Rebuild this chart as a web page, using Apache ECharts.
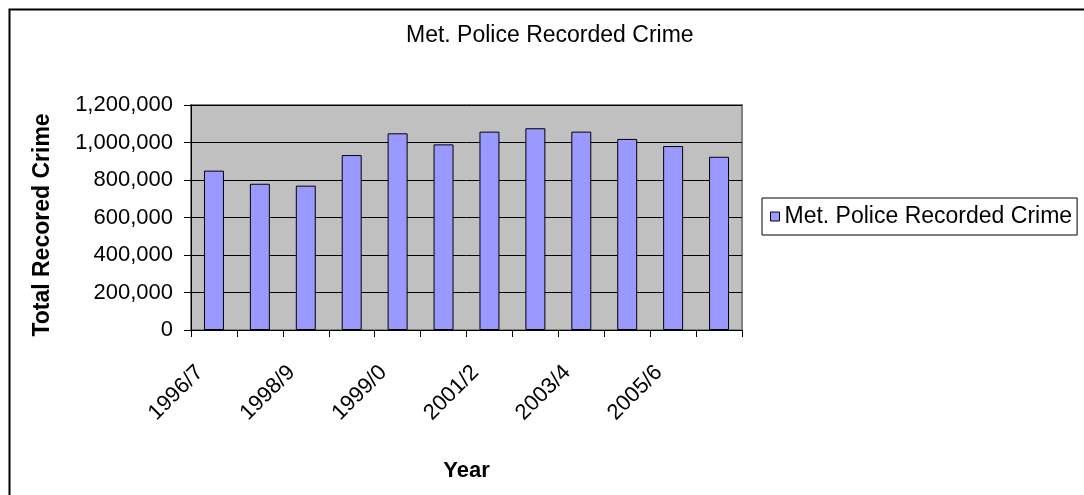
<!DOCTYPE html>
<html lang="en">
<head>
    <meta charset="UTF-8">
    <title>Met. Police Recorded Crime</title>
</head>
<body style="margin: 0; background: #fff">
<div id="container" style="height: 495px; width: 1084px;"></div>
<script type="text/javascript" src="https://cdn.jsdelivr.net/npm/echarts@6/dist/echarts.min.js"></script>
<script type="text/javascript">
    // financial years (1998/9 appears twice: old and new counting rules)
    const years = ['1996/7', '1997/8', '1998/9', '1998/9*', '1999/0', '2000/1',
        '2001/2', '2002/3', '2003/4', '2004/5', '2005/6', '2006/7'];
    const crimes = [850000, 780000, 770000, 933000, 1049000, 990000,
        1058000, 1076000, 1058000, 1019000, 981000, 924000];
    const seriesName = 'Met. Police Recorded Crime';

    const font = 'Arial, "Liberation Sans", sans-serif';
    const myChart = echarts.init(document.getElementById('container'), null, {renderer: 'canvas'});

    const option = {
        backgroundColor: '#fff',
        animation: false,
        title: {
            text: 'Met. Police Recorded Crime',
            left: 406,
            top: 24,
            padding: 0,
            textStyle: {fontFamily: font, fontSize: 23, fontWeight: 'normal', color: '#000'}
        },
        graphic: [{
            type: 'rect',
            left: 7, top: 7,
            shape: {width: 1200, height: 600},
            style: {fill: 'none', stroke: '#000', lineWidth: 2},
            silent: true
        }],
        legend: {
            left: 762,
            top: 198,
            padding: [7, 5, 7, 8],
            borderColor: '#000',
            borderWidth: 1,
            backgroundColor: '#fff',
            itemWidth: 9,
            itemHeight: 9,
            itemGap: 5,
            icon: 'rect',
            itemStyle: {borderColor: '#000', borderWidth: 1},
            textStyle: {fontFamily: font, fontSize: 23, color: '#000'},
            data: [seriesName]
        },
        grid: {
            left: 191, top: 105, width: 551, height: 225,
            show: true,
            backgroundColor: '#C0C0C0',
            borderColor: '#808080',
            borderWidth: 2
        },
        xAxis: {
            type: 'category',
            data: years,
            name: 'Year',
            nameLocation: 'middle',
            nameGap: 130,
            nameTextStyle: {fontFamily: font, fontSize: 22, fontWeight: 'bold', color: '#000'},
            axisLine: {lineStyle: {color: '#000', width: 1}},
            axisTick: {show: true, interval: 0, length: 7, lineStyle: {color: '#000'}},
            axisLabel: {
                interval: 1,
                rotate: 45,
                margin: 25,
                padding: [0, 20, 0, 0],
                fontFamily: font,
                fontSize: 22,
                color: '#000'
            },
            splitLine: {show: false}
        },
        yAxis: {
            type: 'value',
            min: 0,
            max: 1200000,
            interval: 200000,
            name: 'Total Recored Crime',
            nameLocation: 'middle',
            nameRotate: 90,
            nameGap: 137,
            nameTextStyle: {
                fontFamily: font, fontSize: 23, fontWeight: 'bold', color: '#000',
                padding: [0, 15, 0, 0]
            },
            axisLine: {show: true, lineStyle: {color: '#000', width: 1}},
            axisTick: {show: true, length: 7, lineStyle: {color: '#000'}},
            axisLabel: {
                margin: 18,
                fontFamily: font,
                fontSize: 22,
                color: '#000',
                formatter: function (value) {
                    return value.toLocaleString('en-US');
                }
            },
            splitLine: {show: true, lineStyle: {color: '#000', width: 1}}
        },
        series: [{
            name: seriesName,
            type: 'bar',
            data: crimes,
            barWidth: '43.5%',
            itemStyle: {color: '#9999FF', borderColor: '#000', borderWidth: 1}
        }]
    };
    myChart.setOption(option);
</script>
</body>
</html>
